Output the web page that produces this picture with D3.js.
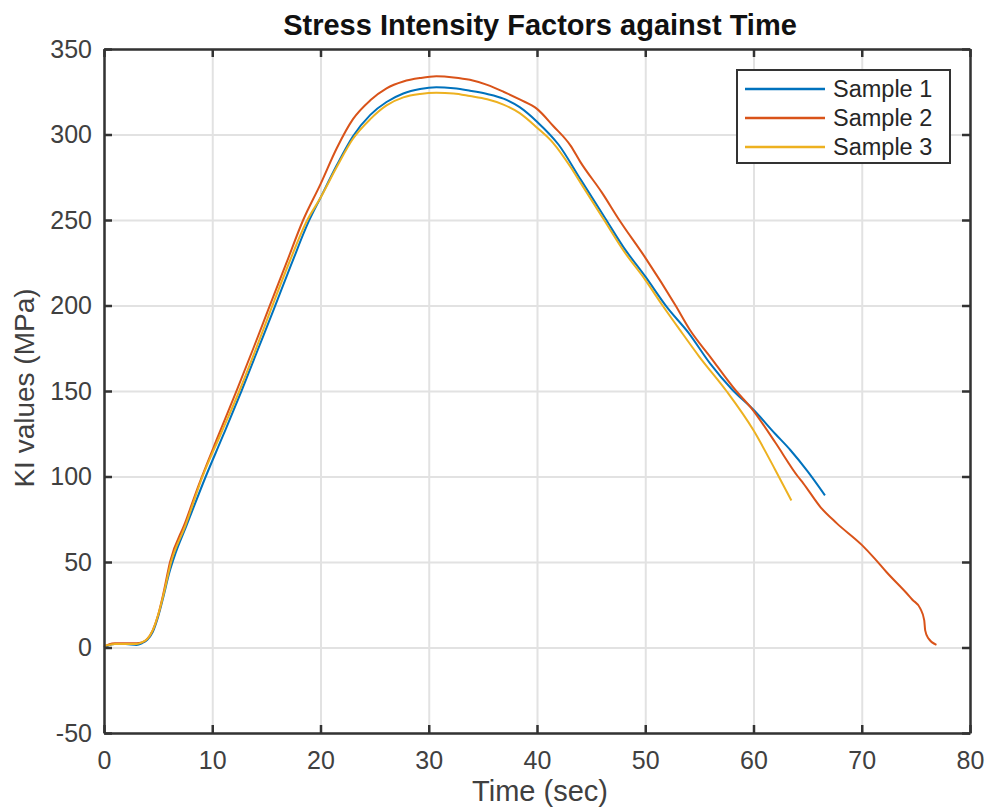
<!DOCTYPE html>
<html>
<head>
<meta charset="utf-8">
<script src="https://cdn.jsdelivr.net/npm/d3@7"></script>
<style>
  html, body { margin: 0; padding: 0; background: #fff; }
  svg { display: block; font-family: "Liberation Sans", Arial, sans-serif; }
</style>
</head>
<body>
<svg id="chart" width="986" height="810"></svg>
<script>
// ---------------- data ----------------
const seriesNames = ["Sample 1", "Sample 2", "Sample 3"];
const seriesColors = ["#0072BD", "#D95319", "#EDB120"];

const time1 = [0, 0.5, 1, 2, 3, 3.5, 4, 4.5, 5, 5.5, 6, 6.6, 7.6, 9.4, 11, 12.7, 14.2, 15.7, 17.3, 18.9, 20, 21.5, 23, 24.6, 26.1, 27.65, 29.2, 30.7, 32.3, 33.8, 35.4, 36.9, 38.4, 40, 42, 44, 46.3, 48, 50, 52, 54, 56, 58, 60, 62, 63.4, 65, 66.6];
const ki1   = [0, 1.5, 2, 2, 1.5, 2.5, 4.5, 9, 18, 30, 43, 55, 71, 100, 124, 150, 174, 198, 224, 249, 263, 282, 299, 311.5, 319, 324, 326.6, 327.6, 327, 325.6, 323.7, 321, 316, 307.5, 294, 274, 251, 234, 217, 199, 184, 166, 151, 139, 125, 115.5, 103, 89];

const time2 = [0, 0.5, 1, 2, 3, 3.5, 4, 4.5, 5, 5.5, 6.1, 7.5, 8.75, 10.5, 12.3, 13.8, 15.2, 16.8, 18.4, 20, 21.5, 23, 24.6, 26.1, 27.65, 29.2, 30.7, 32.3, 33.8, 35.4, 36.9, 38.4, 40, 41.5, 43.1, 44, 46, 47.6, 50, 52.8, 54.1, 56, 58.4, 59.8, 62, 64.1, 64.6, 66.2, 67.7, 70, 71.2, 72.3, 74.15, 74.7, 75.4, 75.77, 75.86, 76.15, 76.9];
const ki2   = [0.5, 2, 2.5, 2.5, 2.5, 3, 5, 10, 19, 32, 50, 73, 95, 123, 151, 175, 198, 224, 250, 271, 292, 309, 320, 327, 331, 333, 334, 333.4, 332, 329, 325, 320.5, 315, 305, 293.5, 284, 266, 250, 228, 200, 186, 170, 150, 140, 120, 100, 96, 82, 72.6, 60, 52, 44, 31.7, 27.8, 22.9, 16, 10, 5.4, 1.5];

const time3 = [0, 0.5, 1, 2, 3, 3.5, 4, 4.5, 5, 5.5, 6.2, 7.5, 9.1, 10.8, 12.5, 14, 15.5, 17.1, 18.7, 20, 21.5, 23, 24.6, 26.1, 27.65, 29.2, 30.7, 32.3, 33.8, 35.4, 36.9, 38.4, 40, 41.5, 43.1, 44, 46.1, 48, 50, 51.6, 53.2, 55, 57.5, 60, 62, 63.5];
const ki3   = [1, 1.5, 2, 2, 2, 3, 5, 10, 19, 31, 50, 71, 100, 125, 150, 174, 199, 225, 249, 263, 281, 297.5, 309, 317, 321.7, 323.7, 324.4, 324, 322.5, 320.6, 317.5, 312.5, 304, 295, 281, 272, 251, 232, 215, 200, 185.7, 170, 150, 127, 104, 86];

const xTicks = [0, 10, 20, 30, 40, 50, 60, 70, 80];
const yTicks = [-50, 0, 50, 100, 150, 200, 250, 300, 350];

const titleText = "Stress Intensity Factors against Time";
const xLabelText = "Time (sec)";
const yLabelText = "KI values (MPa)";

// ---------------- layout ----------------
const L = 104, R = 970, T = 49, B = 733;
const svg = d3.select("#chart");
const x = d3.scaleLinear().domain([0, 80]).range([L, R]);
const y = d3.scaleLinear().domain([-50, 350]).range([B, T]);

const axisColor = "#333333";
const gridColor = "#e2e2e2";
const fontFam = "'Liberation Sans', Arial, sans-serif";

// grid
svg.append("g")
  .attr("transform", `translate(0,${B})`)
  .call(d3.axisBottom(x).tickValues(xTicks).tickSize(-(B - T)).tickFormat(""))
  .call(g => g.select(".domain").remove())
  .call(g => g.selectAll("line").attr("stroke", gridColor).attr("stroke-width", 2));
svg.append("g")
  .attr("transform", `translate(${L},0)`)
  .call(d3.axisLeft(y).tickValues(yTicks).tickSize(-(R - L)).tickFormat(""))
  .call(g => g.select(".domain").remove())
  .call(g => g.selectAll("line").attr("stroke", gridColor).attr("stroke-width", 2));

// lines
const allSeries = [
  { t: time1, v: ki1 },
  { t: time2, v: ki2 },
  { t: time3, v: ki3 }
];
const line = d3.line().x(d => x(d[0])).y(d => y(d[1])).curve(d3.curveMonotoneX);
allSeries.forEach((s, i) => {
  const pts = s.t.map((tt, k) => [tt, s.v[k]]);
  svg.append("path")
    .datum(pts)
    .attr("fill", "none")
    .attr("stroke", seriesColors[i])
    .attr("stroke-width", 2)
    .attr("stroke-linejoin", "round")
    .attr("d", line);
});

// axes (ticks inward, all four sides)
const tickLen = 8;
const fmt = d => String(d);
function styleAxis(g) {
  g.select(".domain").attr("stroke", axisColor).attr("stroke-width", 2.5);
  g.selectAll(".tick line").attr("stroke", axisColor).attr("stroke-width", 2.5);
  g.selectAll(".tick text").attr("fill", "#404040").attr("font-size", 25)
    .attr("font-family", fontFam);
}
svg.append("g")
  .attr("transform", `translate(0,${B})`)
  .call(d3.axisBottom(x).tickValues(xTicks).tickSizeInner(-tickLen).tickSizeOuter(0).tickPadding(18).tickFormat(fmt))
  .call(styleAxis);
svg.append("g")
  .attr("transform", `translate(0,${T})`)
  .call(d3.axisTop(x).tickValues(xTicks).tickSizeInner(-tickLen).tickSizeOuter(0).tickFormat(""))
  .call(styleAxis);
svg.append("g")
  .attr("transform", `translate(${L},0)`)
  .call(d3.axisLeft(y).tickValues(yTicks).tickSizeInner(-tickLen).tickSizeOuter(0).tickPadding(12).tickFormat(fmt))
  .call(styleAxis);
svg.append("g")
  .attr("transform", `translate(${R},0)`)
  .call(d3.axisRight(y).tickValues(yTicks).tickSizeInner(-tickLen).tickSizeOuter(0).tickFormat(""))
  .call(styleAxis);

// title & labels
svg.append("text")
  .attr("x", (L + R) / 2 + 3).attr("y", 35)
  .attr("text-anchor", "middle")
  .attr("font-size", 29).attr("font-weight", "bold").attr("fill", "#111")
  .text(titleText);
svg.append("text")
  .attr("x", (L + R) / 2 + 3).attr("y", 801)
  .attr("text-anchor", "middle")
  .attr("font-size", 29).attr("fill", "#404040")
  .text(xLabelText);
svg.append("text")
  .attr("transform", `translate(34,${(T + B) / 2 - 3}) rotate(-90)`)
  .attr("text-anchor", "middle")
  .attr("font-size", 28).attr("fill", "#404040")
  .text(yLabelText);

// legend
const lg = svg.append("g");
lg.append("rect")
  .attr("x", 737).attr("y", 70).attr("width", 213).attr("height", 93)
  .attr("fill", "#fff").attr("stroke", axisColor).attr("stroke-width", 2);
const legendY = [89, 118, 147];
seriesNames.forEach((name, i) => {
  lg.append("line")
    .attr("x1", 745).attr("x2", 825)
    .attr("y1", legendY[i]).attr("y2", legendY[i])
    .attr("stroke", seriesColors[i]).attr("stroke-width", 2.5);
  lg.append("text")
    .attr("x", 833).attr("y", legendY[i]).attr("dy", "0.35em")
    .attr("font-size", 23.5).attr("fill", "#262626")
    .text(name);
});
</script>
</body>
</html>
